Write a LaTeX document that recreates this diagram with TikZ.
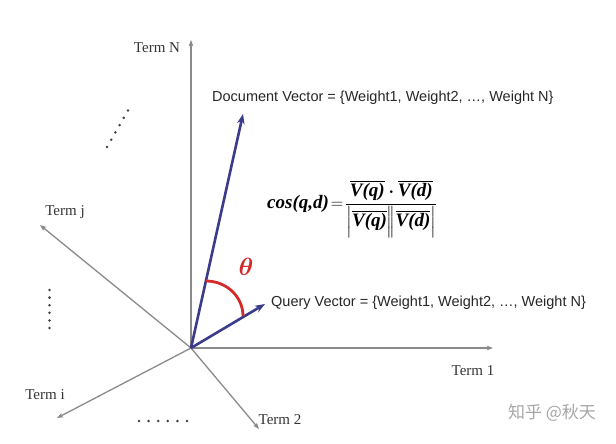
\documentclass[tikz,border=0pt]{standalone}
\usepackage{amsmath}
\usepackage{fontspec}
\setmainfont{Liberation Serif}
\setsansfont{Liberation Sans}
\newfontfamily\cjk{Noto Sans CJK SC}
\usepackage{xcolor}
\usetikzlibrary{arrows.meta}

\definecolor{axisgray}{HTML}{8A8A8A}
\definecolor{vecblue}{HTML}{3B3B8C}
\definecolor{anglered}{HTML}{D42A2A}

\begin{document}
\begin{tikzpicture}[
    x=1pt, y=-1pt,
    axis/.style={draw=axisgray, line width=1.3pt, -{Stealth[length=6pt, width=4.5pt, inset=1pt]}},
    vector/.style={draw=vecblue, line width=2.6pt, -{Stealth[length=10pt, width=7.5pt]}},
    term/.style={font=\fontsize{15}{18}\selectfont, text=black!80, inner sep=0pt},
    veclabel/.style={font=\sffamily\fontsize{14.5}{17}\selectfont, text=black!85, anchor=west, inner sep=0pt},
    dot/.style={fill=black!75}
]
\useasboundingbox (0,0) rectangle (616,444);

% Axes
\coordinate (O) at (191,348);
\coordinate (termN_tip) at (191,40);
\coordinate (term1_tip) at (493,348);
\coordinate (termj_tip) at (40,225);
\coordinate (termi_tip) at (57,418);
\coordinate (term2_tip) at (259,429);

\node[term] (termN) at (157,48) {Term N};
\node[term] (term1) at (473,371) {Term 1};
\node[term] (termj) at (65,212) {Term j};
\node[term] (termi) at (45,395) {Term i};
\node[term] (term2) at (280,420) {Term 2};

\draw[axis] (O) -- (termN_tip);
\draw[axis] (O) -- (term1_tip);
\draw[axis] (O) -- (termj_tip);
\draw[axis] (O) -- (termi_tip);
\draw[axis] (O) -- (term2_tip);

% Vectors
\coordinate (doc_tip) at (243,114);
\coordinate (query_tip) at (265,304);
\draw[vector] (O) -- (doc_tip);
\draw[vector] (O) -- (query_tip);

\node[veclabel] (doc) at (212,98) {Document Vector = \{Weight1, Weight2, \ldots, Weight N\}};
\node[veclabel] (query) at (271,303) {Query Vector = \{Weight1, Weight2, \ldots, Weight N\}};

% Angle
\coordinate (arc_start) at (206,281);
\draw[anglered, line width=2.8pt] (arc_start) arc[start angle=-90, end angle=0, x radius=37, y radius=35];
\node[text=anglered, font=\fontsize{24}{27}\selectfont] (theta) at (246,267) {$\boldsymbol{\theta}$};

% Formula
\node[font=\fontsize{19}{23}\selectfont, anchor=west, inner sep=0pt] (formula) at (267,209)
  {$\textbf{\textit{cos(q,d)}}\!=\!\dfrac{\overline{\textbf{\textit{V(q)}}}\boldsymbol{\cdot}\overline{\textbf{\textit{V(d)}}}}{\left|\overline{\textbf{\textit{V(q)}}}\right|\!\!\left|\overline{\textbf{\textit{V(d)}}}\right|}$};

% Dots
\foreach \i in {0,...,5} {
  \fill[dot] (107+4.2*\i, 147-7.3*\i) circle (1.4);
  \fill[dot] (49.5, 290+7.6*\i) circle (1.4);
  \fill[dot] (139+9.6*\i, 421) circle (1.4);
}

% Watermark
\node[text=black!35, font=\cjk\fontsize{17}{20}\selectfont] (mark) at (552,413) {知乎 @秋天};

\end{tikzpicture}
\end{document}
